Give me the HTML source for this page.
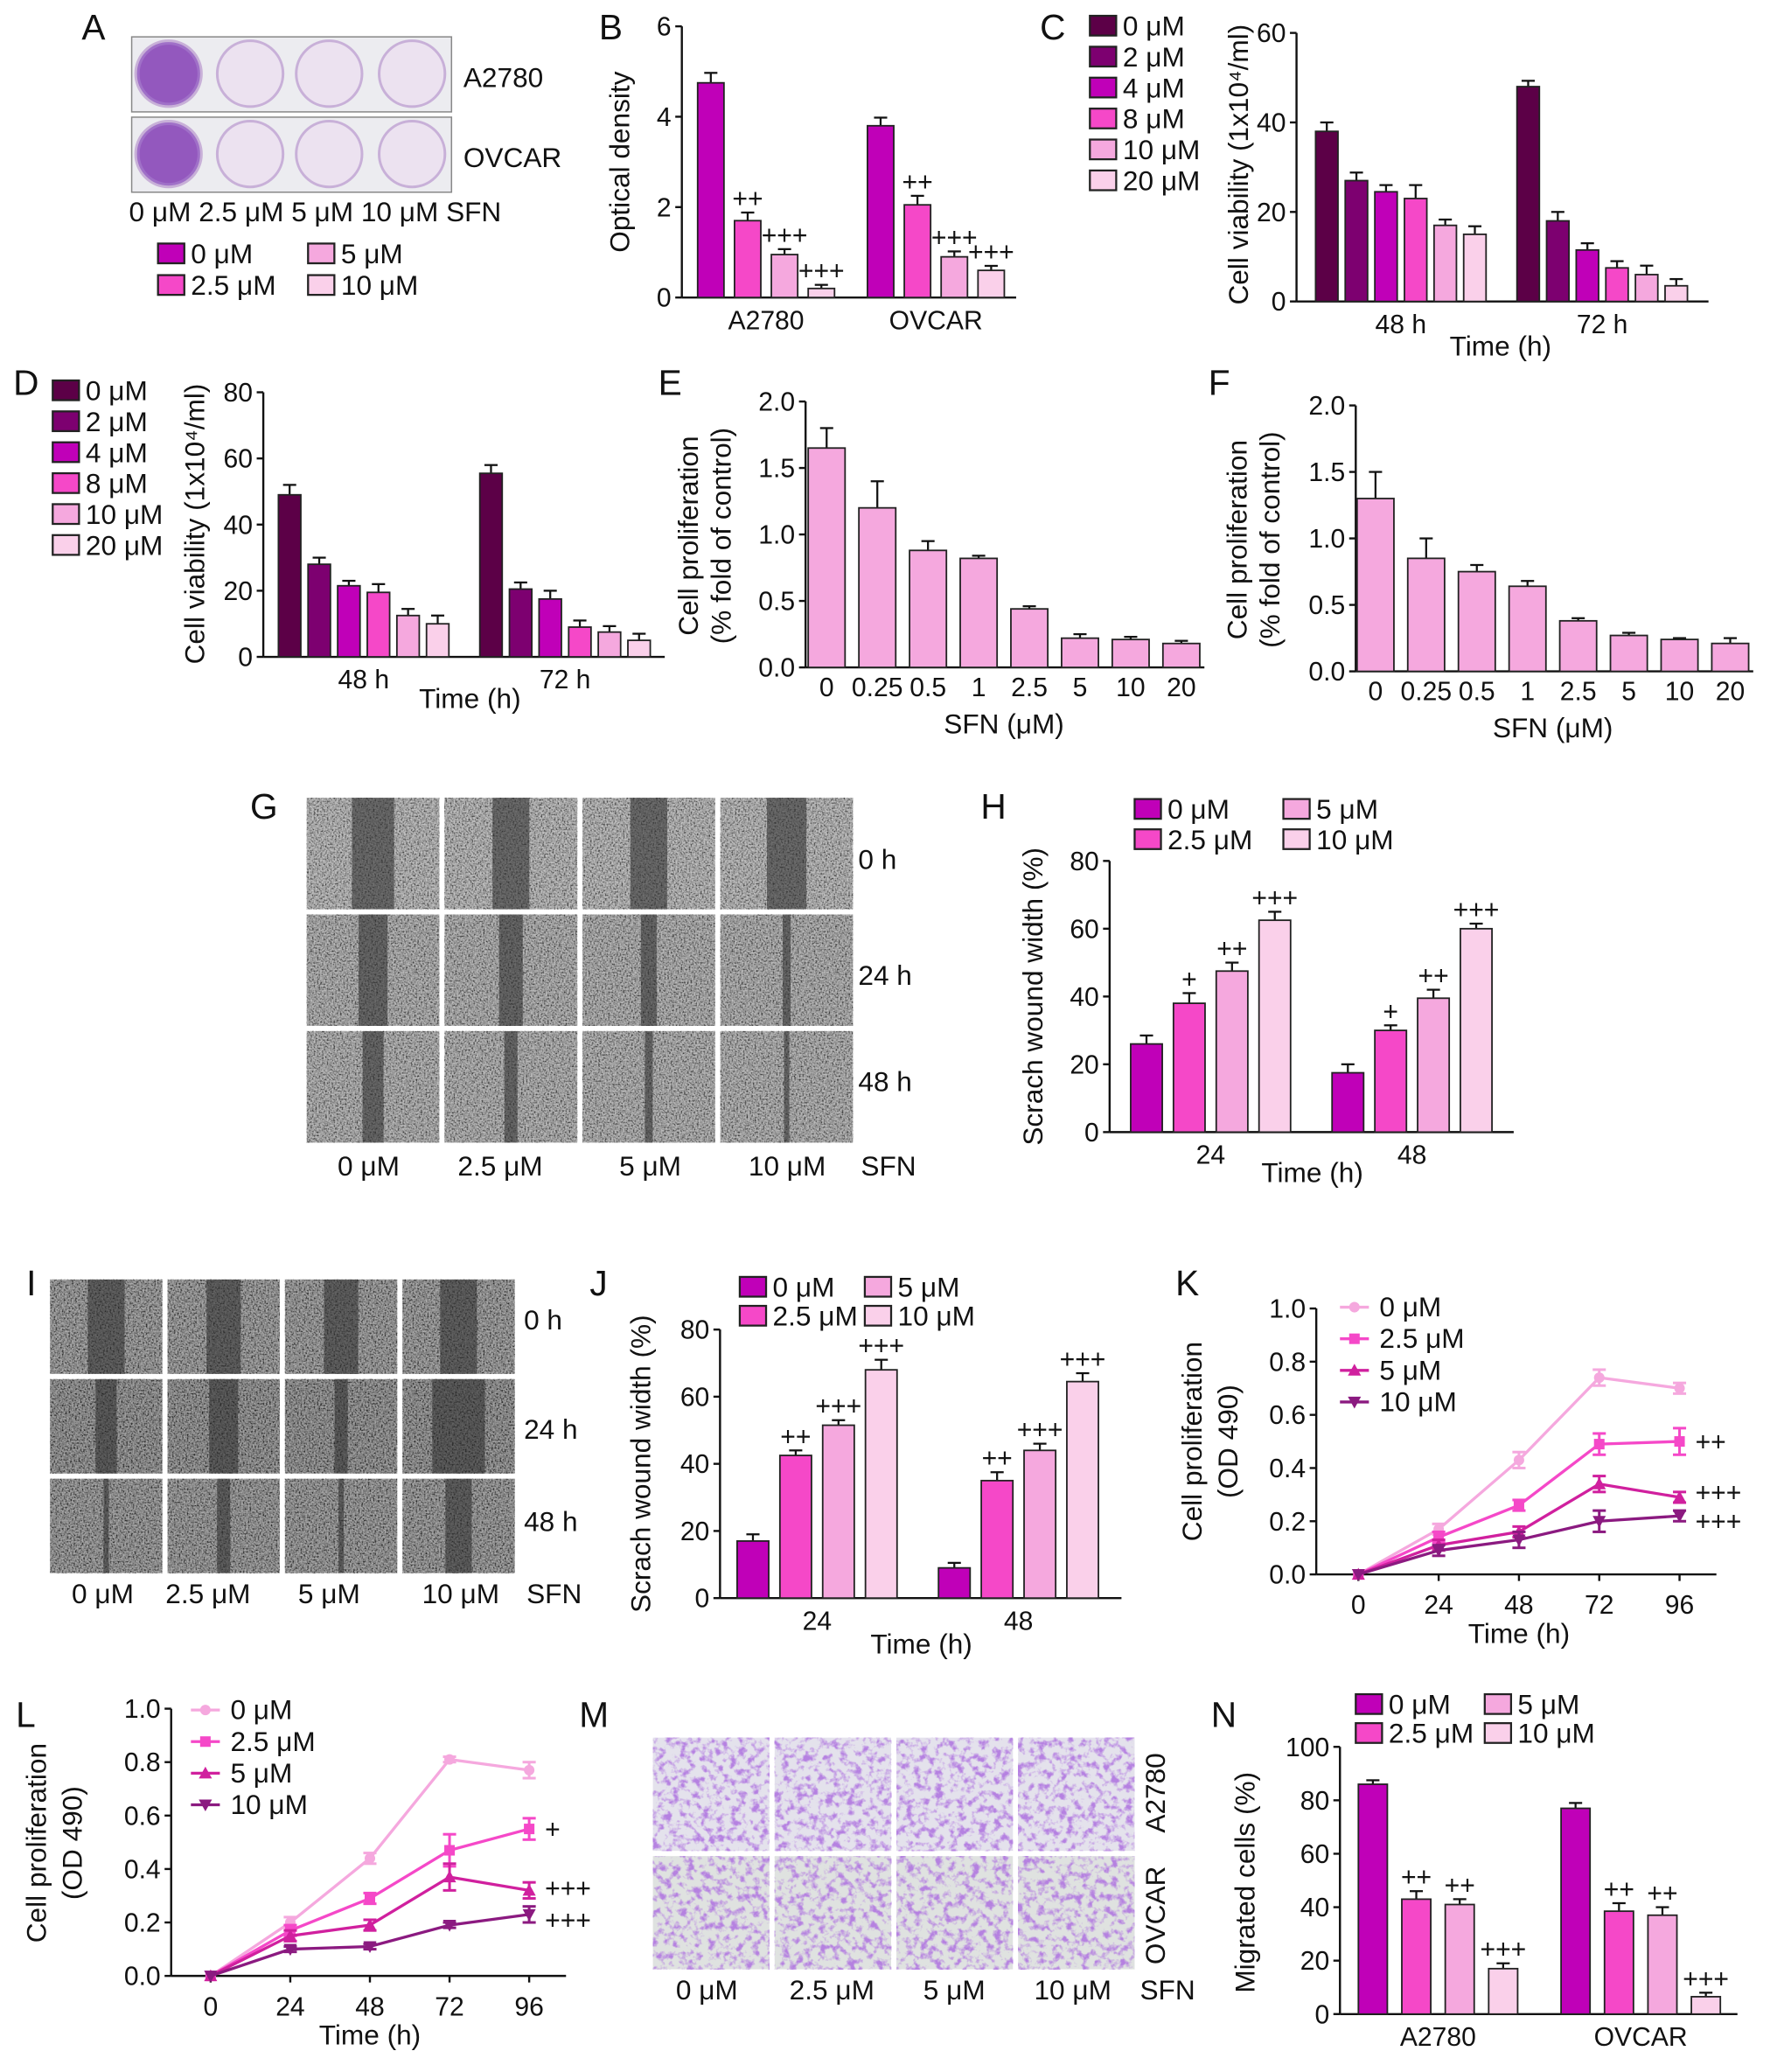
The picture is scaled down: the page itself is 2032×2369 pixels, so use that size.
<!DOCTYPE html>
<html><head><meta charset="utf-8"><style>
html,body{margin:0;padding:0;background:#fff}
svg{display:block;font-family:"Liberation Sans",sans-serif}
</style></head><body>
<svg id="fig" xmlns="http://www.w3.org/2000/svg" width="2032" height="2369" viewBox="0 0 1350 1574">
<defs>
<filter id="noise" x="0" y="0" width="100%" height="100%">
<feTurbulence type="fractalNoise" baseFrequency="0.8" numOctaves="2" seed="3"/>
<feColorMatrix type="matrix" values="2.2 0 0 0 -0.6  2.2 0 0 0 -0.6  2.2 0 0 0 -0.6  0 0 0 0 1"/>
</filter>
<filter id="noise2" x="0" y="0" width="100%" height="100%">
<feTurbulence type="fractalNoise" baseFrequency="0.18" numOctaves="3" seed="7"/>
<feColorMatrix type="matrix" values="0 0 0 0 0.45  0 0 0 0 0.2  0 0 0 0 0.75  4 0 0 0 -1.9"/>
</filter>
</defs>
<g id="root"></g>
</svg>
<script>
const NS="http://www.w3.org/2000/svg";
const root=document.getElementById('root');
function el(tag,attrs,parent,txt){const e=document.createElementNS(NS,tag);for(const k in attrs)e.setAttribute(k,attrs[k]);if(txt!==undefined)e.textContent=txt;(parent||root).appendChild(e);return e;}
function txt(x,y,s,size,parent,anchor,rot){const a={x:x,y:y,'font-size':size,fill:'#111','text-anchor':anchor||'middle'};if(rot)a.transform='rotate(-90 '+x+' '+y+')';const t=el('text',a,parent,s);return t;}

const C4=['#c000b8','#f548c8','#f5a8de','#fad0ea'];
const C6=['#5c0047','#7d0070','#c000b8','#f548c8','#f5a8de','#fad0ea'];

/* ---------- data ---------- */
const bGroups=['A2780','OVCAR'];
const bVals=[[4.75,1.7,0.95,0.2],[3.8,2.05,0.9,0.6]];
const bErr=[[0.22,0.18,0.12,0.08],[0.18,0.2,0.12,0.1]];
const bMarks=[['','++','+++','+++'],['','++','+++','+++']];
const bTicks=[0,2,4,6];

const cGroups=['48 h','72 h'];
const cVals=[[38,27,24.5,23,17,15],[48,18,11.5,7.5,6,3.5]];
const cErr=[[2,1.8,1.5,3,1.3,1.8],[1.3,2,1.5,1.5,2,1.5]];
const cTicks=[0,20,40,60];

const dGroups=['48 h','72 h'];
const dVals=[[49,28,21.5,19.5,12.5,10],[55.5,20.5,17.5,9,7.5,5]];
const dErr=[[3,2,1.5,2.5,2,2.5],[2.5,2,2.5,2,1.8,2]];
const dTicks=[0,20,40,60,80];

const eCats=['0','0.25','0.5','1','2.5','5','10','20'];
const eVals=[1.65,1.2,0.88,0.82,0.44,0.22,0.21,0.18];
const eErr=[0.15,0.2,0.07,0.02,0.02,0.03,0.02,0.02];
const fVals=[1.3,0.85,0.75,0.64,0.38,0.27,0.24,0.21];
const fErr=[0.2,0.15,0.05,0.04,0.02,0.02,0.01,0.04];
const efTicks=[0,0.5,1.0,1.5,2.0];

const hGroups=['24','48'];
const hVals=[[26,38,47.5,62.5],[17.5,30,39.5,60]];
const hErr=[[2.5,3,2.5,2.5],[2.5,1.5,2.5,1.5]];
const hMarks=[['','+','++','+++'],['','+','++','+++']];
const hjTicks=[0,20,40,60,80];

const jGroups=['24','48'];
const jVals=[[17,42.5,51.5,68],[9,35,44,64.5]];
const jErr=[[2,1.5,1.5,3],[1.5,2.5,2,2.5]];
const jMarks=[['','++','+++','+++'],['','++','+++','+++']];

const nGroups=['A2780','OVCAR'];
const nVals=[[86,43,41,17],[77,38.5,37,6.5]];
const nErr=[[1.5,3,2,2],[2,3,3,1.5]];
const nMarks=[['','++','++','+++'],['','++','++','+++']];
const nTicks=[0,20,40,60,80,100];

const lineX=[0,24,48,72,96];
const lineTicks=[0,0.2,0.4,0.6,0.8,1.0];
const kS0=[0,0.17,0.43,0.74,0.7], kS1=[0,0.14,0.26,0.49,0.5], kS2=[0,0.11,0.16,0.34,0.29], kS3=[0,0.09,0.13,0.2,0.22];
const kE=[[0,0.02,0.03,0.03,0.02],[0,0.02,0.02,0.04,0.05],[0,0.02,0.02,0.03,0.02],[0,0.02,0.03,0.04,0.02]];
const lS0=[0,0.2,0.44,0.81,0.77], lS1=[0,0.17,0.29,0.47,0.55], lS2=[0,0.15,0.19,0.37,0.32], lS3=[0,0.1,0.11,0.19,0.23];
const lE=[[0,0.02,0.02,0.01,0.03],[0,0.02,0.02,0.06,0.04],[0,0.02,0.02,0.05,0.03],[0,0.01,0.01,0.01,0.03]];
const doses4=['0 μM','2.5 μM','5 μM','10 μM'];
const doses6=['0 μM','2 μM','4 μM','8 μM','10 μM','20 μM'];

/* ---------- helpers ---------- */
function axisY(g,ax,y0,y1,max,ticks,fmt,fs){
  const sy=v=>y0-(v/max)*(y0-y1);
  const a=el('line',{x1:ax,y1:sy(0),x2:ax,y2:sy(max),stroke:'#111','stroke-width':1.6},g);
  
  ticks.forEach(t=>{el('line',{x1:ax-5,y1:sy(t),x2:ax,y2:sy(t),stroke:'#111','stroke-width':1.6},g);txt(ax-8,sy(t)+7,fmt(t),fs||20,g,'end');});
  return sy;
}
function barChart(o){
  const g=el('g',{},root);
  const sy=axisY(g,o.ax,o.y0,o.y1,o.max,o.ticks,o.fmt);
  const xa=el('line',{x1:o.ax,y1:o.y0,x2:o.xend,y2:o.y0,stroke:'#111','stroke-width':1.6},g);
  
  o.vals.forEach((grp,gi)=>{
    grp.forEach((v,i)=>{
      const cx=o.start+gi*o.gstep+i*o.step;
      const e=o.err[gi][i];
      el('line',{x1:cx,y1:sy(v),x2:cx,y2:sy(v+e),stroke:'#111','stroke-width':1.5},g);
      el('line',{x1:cx-5,y1:sy(v+e),x2:cx+5,y2:sy(v+e),stroke:'#111','stroke-width':1.5},g);
      const r=el('rect',{x:cx-o.w/2,y:sy(v),width:o.w,height:sy(0)-sy(v),fill:o.colors[i],stroke:'#222','stroke-width':1.2},g);
      
      
      if(o.marks&&o.marks[gi][i])txt(cx,sy(v+e)-4,o.marks[gi][i],20,g);
    });
    if(o.glabels)txt(o.start+gi*o.gstep+(grp.length-1)*o.step/2,o.y0+24,o.glabels[gi],20,g);
  });
  if(o.title)o.title.forEach(t=>txt(t[0],t[1],t[2],21,g,'middle',true));
  if(o.xtitle)txt(o.xtitle[0],o.xtitle[1],o.xtitle[2],21,g);
  return g;
}
function simpleBars(o){
  const g=el('g',{},root);
  const sy=axisY(g,o.ax,o.y0,o.y1,o.max,o.ticks,t=>t.toFixed(1));
  el('line',{x1:o.ax,y1:o.y0,x2:o.xend,y2:o.y0,stroke:'#111','stroke-width':1.6},g);
  o.vals.forEach((v,i)=>{
    const cx=o.start+i*o.step,e=o.err[i];
    el('line',{x1:cx,y1:sy(v),x2:cx,y2:sy(v+e),stroke:'#111','stroke-width':1.5},g);
    el('line',{x1:cx-5,y1:sy(v+e),x2:cx+5,y2:sy(v+e),stroke:'#111','stroke-width':1.5},g);
    const r=el('rect',{x:cx-14,y:sy(v),width:28,height:sy(0)-sy(v),fill:'#f5a8de',stroke:'#222','stroke-width':1.2},g);
    
    
    txt(cx,o.y0+22,eCats[i],20,g);
  });
  txt(o.tx1,o.ty,'Cell proliferation',21,g,'middle',true);
  txt(o.tx2,o.ty,'(% fold of control)',21,g,'middle',true);
  txt(o.start+3.5*o.step,o.y0+50,'SFN (μM)',21,g);
}
function legendBox(g,x,y,color,label){
  const r=el('rect',{x:x,y:y,width:20,height:15,fill:color,stroke:'#222','stroke-width':1.5},g);
  
  txt(x+25,y+15,label,21,g,'start');
}
function marker(g,type,x,y,c){
  if(type==0)el('circle',{cx:x,cy:y,r:4,fill:c},g);
  else if(type==1)el('rect',{x:x-4,y:y-4,width:8,height:8,fill:c},g);
  else if(type==2)el('polygon',{points:`${x},${y-5} ${x-5},${y+4} ${x+5},${y+4}`,fill:c},g);
  else el('polygon',{points:`${x},${y+5} ${x-5},${y-4} ${x+5},${y-4}`,fill:c},g);
}
const LC=['#f5a8de','#f548c8','#d0209e','#8b1a80'];
function lineChart(o){
  const g=el('g',{},root);
  const sy=axisY(g,o.ax,o.y0,o.y1,1.0,lineTicks,t=>t.toFixed(1));
  const sx=v=>o.x0+v/96*(o.x96-o.x0);
  el('line',{x1:o.ax,y1:o.y0,x2:o.x96+28,y2:o.y0,stroke:'#111','stroke-width':1.6},g);
  lineX.forEach(v=>{el('line',{x1:sx(v),y1:o.y0,x2:sx(v),y2:o.y0+5,stroke:'#111','stroke-width':1.6},g);txt(sx(v),o.y0+30,String(v),20,g);});
  o.series.forEach((s,si)=>{
    const p=el('polyline',{points:s.map((v,i)=>sx(lineX[i])+','+sy(v)).join(' '),fill:'none',stroke:LC[si],'stroke-width':2.2},g);
    
    
    s.forEach((v,i)=>{const e=o.err[si][i];if(e>0){el('line',{x1:sx(lineX[i]),y1:sy(v-e),x2:sx(lineX[i]),y2:sy(v+e),stroke:LC[si],'stroke-width':2},g);el('line',{x1:sx(lineX[i])-5,y1:sy(v+e),x2:sx(lineX[i])+5,y2:sy(v+e),stroke:LC[si],'stroke-width':2},g);el('line',{x1:sx(lineX[i])-5,y1:sy(v-e),x2:sx(lineX[i])+5,y2:sy(v-e),stroke:LC[si],'stroke-width':2},g);}marker(g,si,sx(lineX[i]),sy(v),LC[si]);});
    if(o.marks[si])txt(sx(96)+12,sy(s[4])+7+(o.moff[si]||0),o.marks[si],20,g,'start');
  });
  doses4.forEach((d,i)=>{const y=o.ly+i*24;el('line',{x1:o.lx,y1:y,x2:o.lx+22,y2:y,stroke:LC[i],'stroke-width':2.2},g);marker(g,i,o.lx+11,y,LC[i]);txt(o.lx+30,y+7,d,21,g,'start');});
  txt(o.tx1,o.ty,'Cell proliferation',21,g,'middle',true);
  txt(o.tx2,o.ty,'(OD 490)',21,g,'middle',true);
  txt(sx(48),o.y0+52,'Time (h)',21,g);
}
function photoGrid(name,x,y,w,h,cols,rows,gap,bg,band,flt,op){
  const g=el('g',{},root);
  const cw=(w-(cols-1)*gap)/cols,rh=(h-(rows-1)*gap)/rows;
  for(let r=0;r<rows;r++)for(let c=0;c<cols;c++){
    const px=x+c*(cw+gap),py=y+r*(rh+gap);
    const im=el('rect',{x:px,y:py,width:cw,height:rh,fill:bg[r]},g);
    
    el('rect',{x:px,y:py,width:cw,height:rh,filter:flt||'url(#noise)',opacity:op||0.5},g);
    if(band){const bw=band[r][c];if(bw>0)el('rect',{x:px+cw/2-bw/2,y:py,width:bw,height:rh,fill:'#2a2a2a',opacity:0.55},g);}
  }
  return g;
}

/* ---------- panel letters ---------- */
[['A',62,30],['B',455,30],['C',790,30],['D',10,300],['E',500,300],['F',918,300],['G',190,622],['H',745,622],['I',20,984],['J',448,984],['K',893,984],['L',12,1312],['M',440,1312],['N',920,1312]].forEach(p=>{const t=el('text',{x:p[1],y:p[2],'font-size':27,fill:'#111'},root,p[0]);});

/* ---------- A ---------- */
(function(){
  const g=el('g',{},root);
  [[28,'A2780'],[89,'OVCAR']].forEach((r,ri)=>{
    el('rect',{x:100,y:r[0],width:243,height:57,fill:'#ececf0',stroke:'#888','stroke-width':1},g);
    [128,190,250,313].forEach((cx,i)=>{
      const c=el('circle',{cx:cx,cy:r[0]+28,r:25,fill:i==0?'#a070c8':'#ece2f0',stroke:'#c8b0d8','stroke-width':2},g);
      
      if(i==0)el('circle',{cx:cx,cy:r[0]+28,r:22,fill:'#8a48b8',opacity:0.6},g);
    });
    txt(352,r[0]+38,r[1],21,g,'start');
  });
  txt(98,168,'0 μM 2.5 μM 5 μM 10 μM SFN',21,g,'start');
  legendBox(g,120,185,C4[0],'0 μM');legendBox(g,120,209,C4[1],'2.5 μM');
  legendBox(g,234,185,C4[2],'5 μM');legendBox(g,234,209,C4[3],'10 μM');
})();

/* ---------- B ---------- */
barChart({name:'panel-b-chart',ax:518,y0:226,y1:20,max:6,ticks:bTicks,fmt:t=>t,xend:772,vals:bVals,err:bErr,marks:bMarks,colors:C4,start:540,gstep:129,step:28,w:20,glabels:bGroups,title:[[478,123,'Optical density']]});

/* ---------- C ---------- */
(function(){
  const g=barChart({name:'panel-c-chart',ax:985,y0:229,y1:25,max:60,ticks:cTicks,fmt:t=>t,xend:1298,vals:cVals,err:cErr,colors:C6,start:1008,gstep:153,step:22.5,w:17,glabels:cGroups,title:[[948,125,'Cell viability (1x10⁴/ml)']],xtitle:[1140,270,'Time (h)']});
  doses6.forEach((d,i)=>legendBox(g,828,12+i*23.5,C6[i],d));
})();

/* ---------- D ---------- */
(function(){
  const g=barChart({name:'panel-d-chart',ax:200,y0:499,y1:298,max:80,ticks:dTicks,fmt:t=>t,xend:505,vals:dVals,err:dErr,colors:C6,start:220,gstep:153,step:22.5,w:17,glabels:dGroups,title:[[155,398,'Cell viability (1x10⁴/ml)']],xtitle:[357,538,'Time (h)']});
  doses6.forEach((d,i)=>legendBox(g,40,289+i*23.5,C6[i],d));
})();

/* ---------- E, F ---------- */
simpleBars({name:'panel-e-chart',ax:612,y0:507,y1:305,max:2.0,ticks:efTicks,xend:915,vals:eVals,err:eErr,start:628,step:38.5,tx1:530,tx2:555,ty:407});
simpleBars({name:'panel-f-chart',ax:1030,y0:510,y1:308,max:2.0,ticks:efTicks,xend:1332,vals:fVals,err:fErr,start:1045,step:38.5,tx1:947,tx2:972,ty:410});

/* ---------- G ---------- */
(function(){
  const g=photoGrid('panel-g-scratch-images',233,606,415,262,4,3,4,['#8a8a8a','#7a7a7a','#7c7c7c'],[[32,28,28,30],[22,18,12,6],[16,10,6,4]]);
  txt(652,660,'0 h',21,g,'start');txt(652,748,'24 h',21,g,'start');txt(652,829,'48 h',21,g,'start');
  [['0 μM',280],['2.5 μM',380],['5 μM',494],['10 μM',598],['SFN',675]].forEach(l=>txt(l[1],893,l[0],21,g));
})();

/* ---------- H ---------- */
(function(){
  const g=barChart({name:'panel-h-chart',ax:843,y0:860,y1:654,max:80,ticks:hjTicks,fmt:t=>t,xend:1150,vals:hVals,err:hErr,marks:hMarks,colors:C4,start:871,gstep:153,step:32.5,w:24,glabels:hGroups,title:[[792,757,'Scrach wound width (%)']],xtitle:[997,898,'Time (h)']});
  legendBox(g,862,607,C4[0],'0 μM');legendBox(g,975,607,C4[2],'5 μM');
  legendBox(g,862,630,C4[1],'2.5 μM');legendBox(g,975,630,C4[3],'10 μM');
})();

/* ---------- I ---------- */
(function(){
  const g=photoGrid('panel-i-scratch-images',38,972,353,223,4,3,4,['#5a5a5a','#4a4a4a','#555555'],[[28,26,26,28],[16,22,10,40],[4,10,4,20]]);
  txt(398,1010,'0 h',21,g,'start');txt(398,1093,'24 h',21,g,'start');txt(398,1163,'48 h',21,g,'start');
  [['0 μM',78],['2.5 μM',158],['5 μM',250],['10 μM',350],['SFN',421]].forEach(l=>txt(l[1],1218,l[0],21,g));
})();

/* ---------- J ---------- */
(function(){
  const g=barChart({name:'panel-j-chart',ax:547,y0:1214,y1:1010,max:80,ticks:hjTicks,fmt:t=>t,xend:852,vals:jVals,err:jErr,marks:jMarks,colors:C4,start:572,gstep:153,step:32.5,w:24,glabels:jGroups,title:[[494,1112,'Scrach wound width (%)']],xtitle:[700,1256,'Time (h)']});
  legendBox(g,562,970,C4[0],'0 μM');legendBox(g,657,970,C4[2],'5 μM');
  legendBox(g,562,992,C4[1],'2.5 μM');legendBox(g,657,992,C4[3],'10 μM');
})();

/* ---------- K, L ---------- */
lineChart({name:'panel-k-chart',ax:1000,y0:1196,y1:994,x0:1032,x96:1276,series:[kS0,kS1,kS2,kS3],err:kE,marks:['','++','+++','+++'],moff:[0,0,-4,4],lx:1018,ly:993,tx1:913,tx2:940,ty:1095});
lineChart({name:'panel-l-chart',ax:130,y0:1501,y1:1298,x0:160,x96:402,series:[lS0,lS1,lS2,lS3],err:lE,marks:['','+','+++','+++'],moff:[0,0,-2,4],lx:145,ly:1299,tx1:35,tx2:62,ty:1400});

/* ---------- M ---------- */
(function(){
  const g=photoGrid('panel-m-transwell-images',496,1320,366,176,4,2,4,['#e4e2ec','#dfe2e0'],null,'url(#noise2)',0.95);
  txt(885,1362,'A2780',21,g,'middle',true);txt(885,1455,'OVCAR',21,g,'middle',true);
  [['0 μM',537],['2.5 μM',632],['5 μM',725],['10 μM',815],['SFN',887]].forEach(l=>txt(l[1],1519,l[0],21,g));
})();

/* ---------- N ---------- */
(function(){
  const g=barChart({name:'panel-n-chart',ax:1018,y0:1530,y1:1327,max:100,ticks:nTicks,fmt:t=>t,xend:1320,vals:nVals,err:nErr,marks:nMarks,colors:C4,start:1043,gstep:154,step:33,w:22,glabels:nGroups,title:[[953,1430,'Migrated cells (%)']]});
  legendBox(g,1030,1287,C4[0],'0 μM');legendBox(g,1128,1287,C4[2],'5 μM');
  legendBox(g,1030,1309,C4[1],'2.5 μM');legendBox(g,1128,1309,C4[3],'10 μM');
})();
</script>
</body></html>
